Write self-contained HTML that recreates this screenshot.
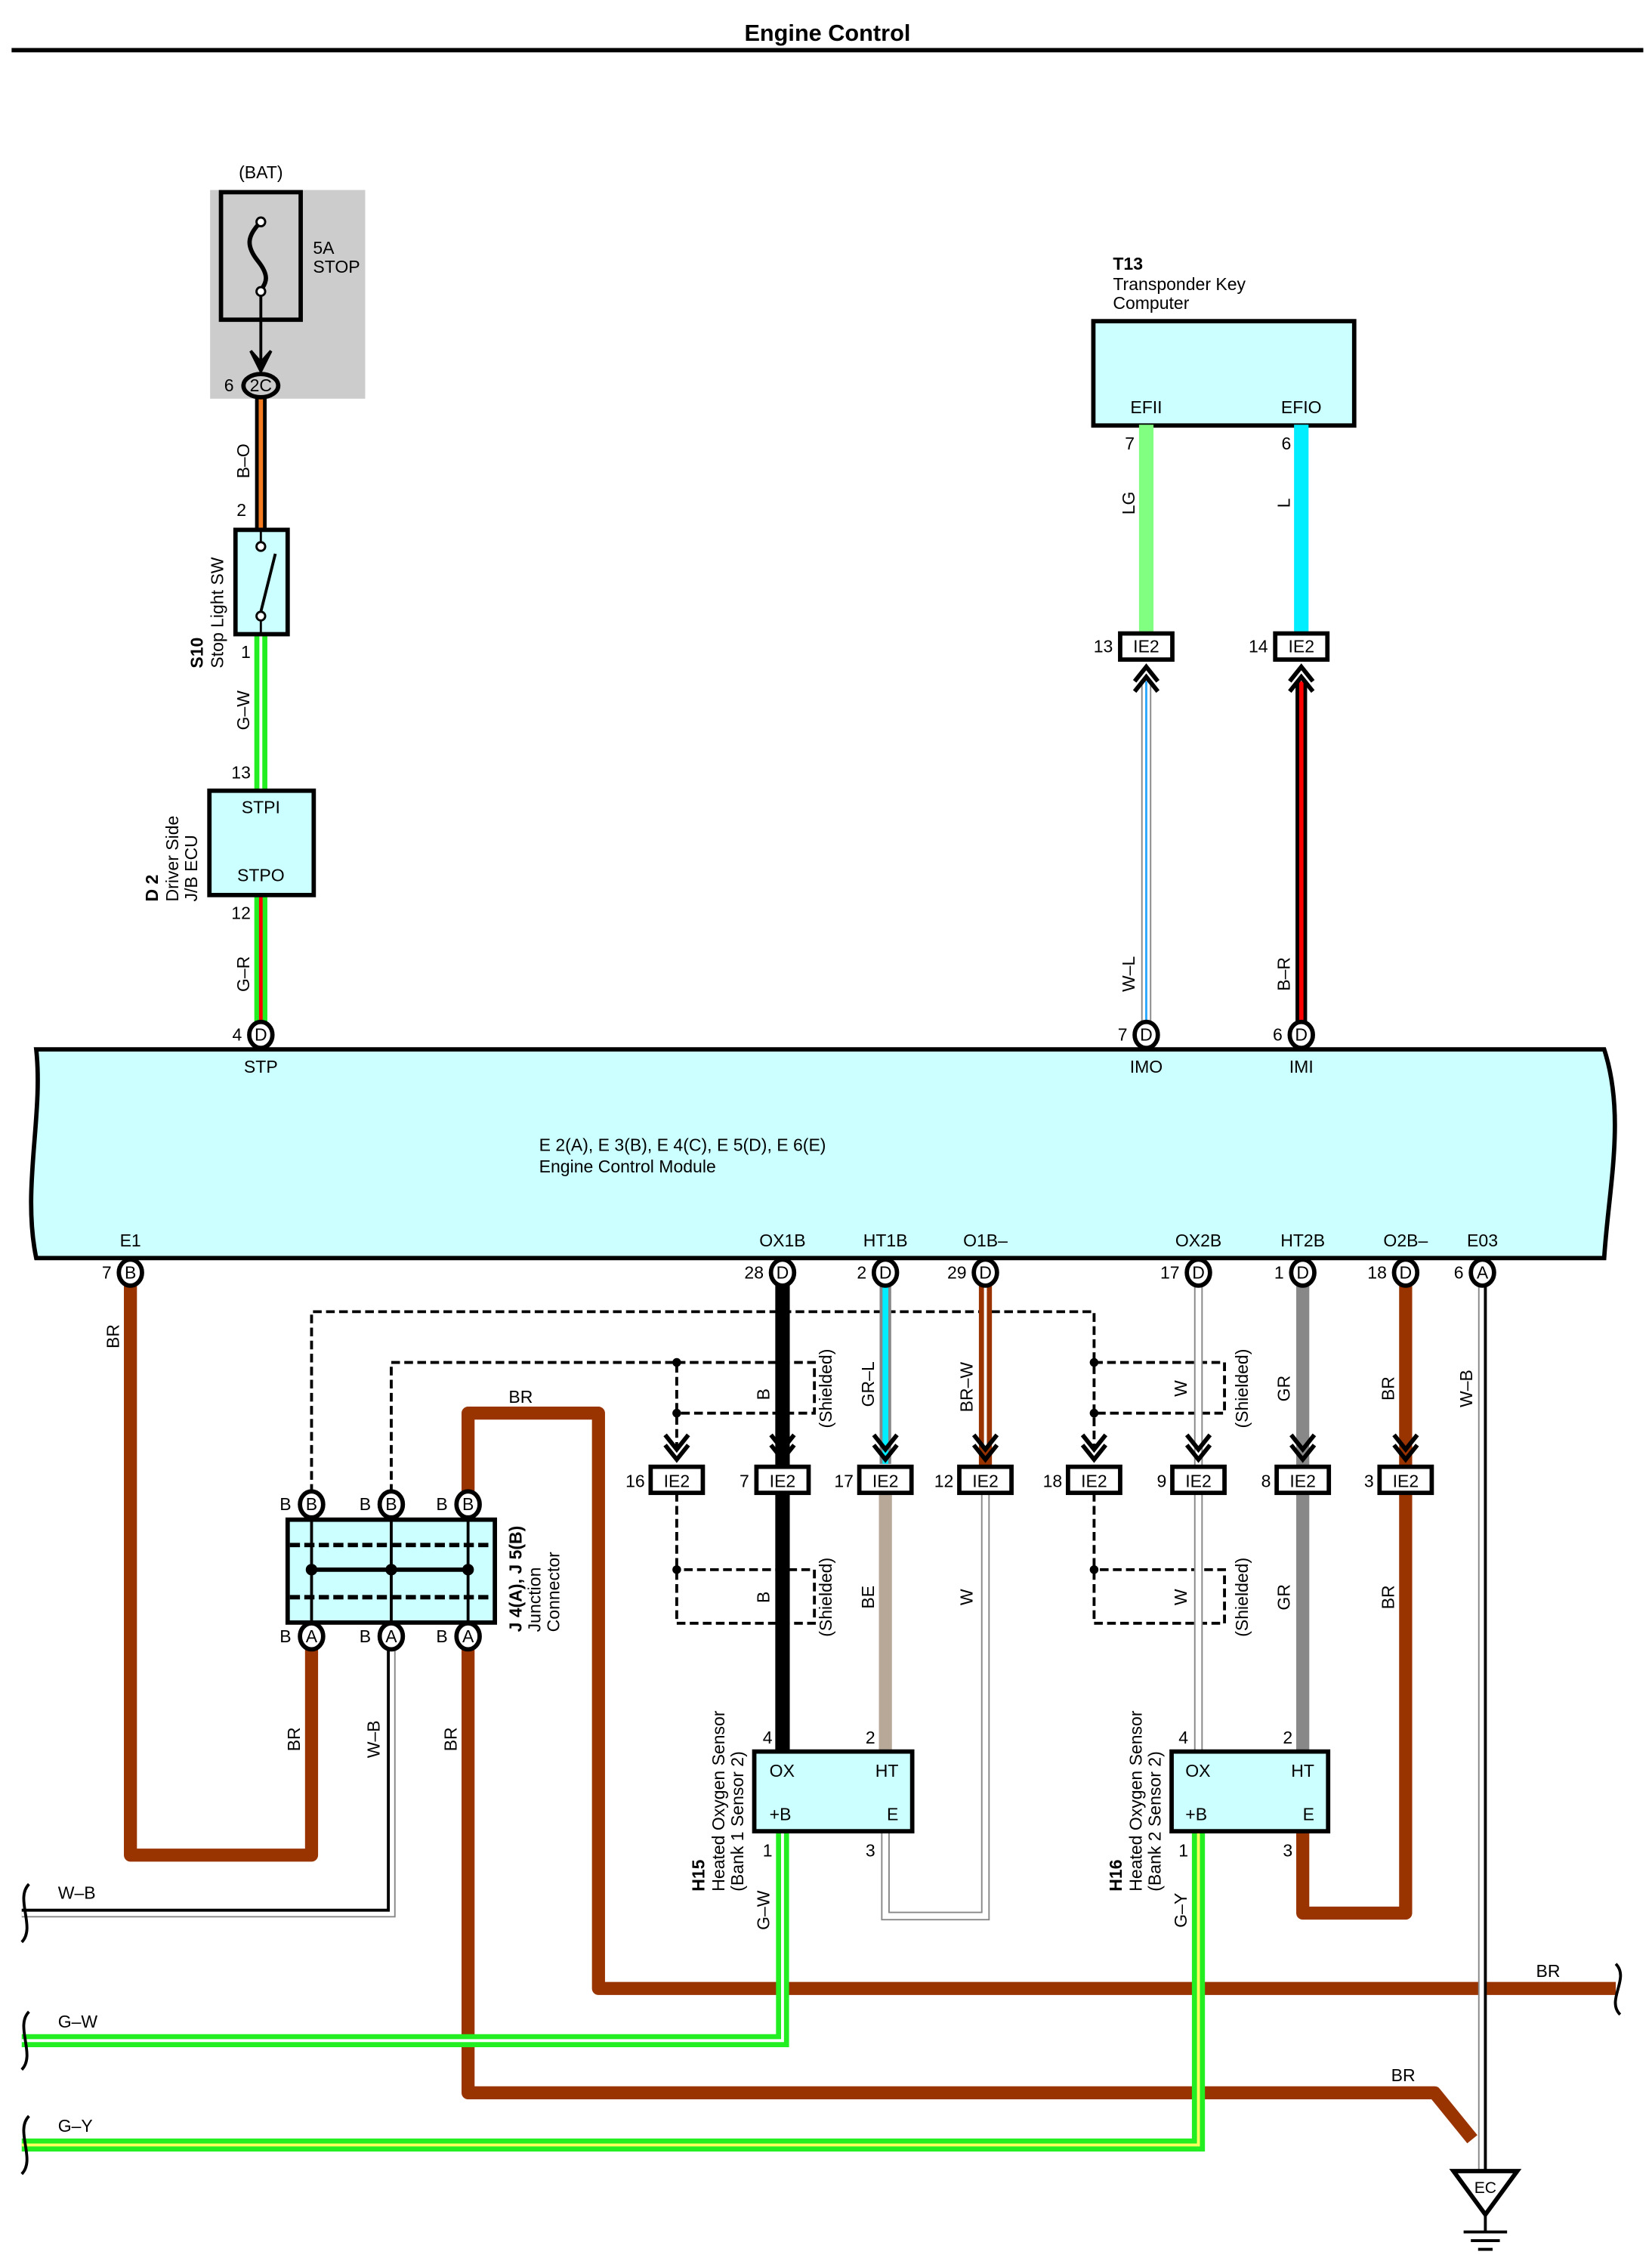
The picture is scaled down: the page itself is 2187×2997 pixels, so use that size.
<!DOCTYPE html>
<html><head><meta charset="utf-8"><style>html,body{margin:0;padding:0;background:#fff}svg{display:block}text{font-family:"Liberation Sans",sans-serif;font-size:12px}</style></head><body>
<svg width="2187" height="2997" viewBox="0 0 1140 1562" xmlns="http://www.w3.org/2000/svg">
<defs>
<g id="chv"><path d="M-8,-22 L0,-12 L8,-22 M-8,-15 L0,-5 L8,-15" fill="none" stroke="#000" stroke-width="3"/></g>
<g id="chu"><path d="M-8,22 L0,12 L8,22 M-8,15 L0,5 L8,15" fill="none" stroke="#000" stroke-width="3"/></g>
</defs>
<text x="571" y="28" text-anchor="middle" font-weight="bold" style="font-size:16px">Engine Control</text>
<rect x="8" y="33" width="1126" height="3" fill="#000"/>

<!-- fuse -->
<rect x="145" y="131" width="107" height="144" fill="#ccc"/>
<text x="180" y="123" text-anchor="middle">(BAT)</text>
<rect x="152.5" y="132.5" width="55" height="88" fill="none" stroke="#000" stroke-width="3"/>
<path d="M180,153 C170,163 170,170 178,180 C186,190 184,195 180,200" fill="none" stroke="#000" stroke-width="3"/>
<circle cx="180" cy="153" r="3" fill="#fff" stroke="#000" stroke-width="1.5"/>
<circle cx="180" cy="201" r="3" fill="#fff" stroke="#000" stroke-width="1.5"/>
<line x1="180" y1="204" x2="180" y2="252" stroke="#000" stroke-width="2"/>
<path d="M173,242 L180,256 L187,242 L180,250 Z" fill="#000" stroke="#000" stroke-width="2"/>
<text x="216" y="175">5A</text><text x="216" y="188">STOP</text>

<!-- wires top-left -->
<line x1="180" y1="270" x2="180" y2="365" stroke="#000" stroke-width="8"/>
<line x1="180" y1="270" x2="180" y2="365" stroke="#f47a20" stroke-width="3"/>
<line x1="180" y1="437" x2="180" y2="545" stroke="#22ee22" stroke-width="9"/>
<line x1="180" y1="437" x2="180" y2="545" stroke="#fff" stroke-width="2"/>
<line x1="180" y1="617" x2="180" y2="706" stroke="#22ee22" stroke-width="9"/>
<line x1="180" y1="617" x2="180" y2="706" stroke="#f00" stroke-width="2.5"/>
<ellipse cx="180" cy="266" rx="12" ry="8" fill="#ccc" stroke="#000" stroke-width="3"/>
<text x="180" y="270" text-anchor="middle">2C</text><text x="158" y="270" text-anchor="middle">6</text>
<text transform="translate(172,318) rotate(-90)" text-anchor="middle">B–O</text>
<text x="170" y="356" text-anchor="end">2</text>

<rect x="162.5" y="365.5" width="36" height="72" fill="#ccffff" stroke="#000" stroke-width="3"/>
<circle cx="180" cy="377" r="3" fill="#fff" stroke="#000" stroke-width="1.5"/>
<circle cx="180" cy="425" r="3" fill="#fff" stroke="#000" stroke-width="1.5"/>
<line x1="180" y1="422" x2="190" y2="382" stroke="#000" stroke-width="2"/>
<line x1="180" y1="365" x2="180" y2="374" stroke="#000" stroke-width="1.5"/>
<line x1="180" y1="428" x2="180" y2="437" stroke="#000" stroke-width="1.5"/>
<text transform="translate(140,461) rotate(-90)" font-weight="bold">S10</text>
<text transform="translate(154,461) rotate(-90)">Stop Light SW</text>
<text x="173" y="454" text-anchor="end">1</text>
<text transform="translate(172,490) rotate(-90)" text-anchor="middle">G–W</text>
<text x="173" y="537" text-anchor="end">13</text>

<rect x="144.5" y="545.5" width="72" height="72" fill="#ccffff" stroke="#000" stroke-width="3"/>
<text x="180" y="561" text-anchor="middle">STPI</text><text x="180" y="608" text-anchor="middle">STPO</text>
<text transform="translate(109,622) rotate(-90)" font-weight="bold">D 2</text>
<text transform="translate(123,622) rotate(-90)">Driver Side</text>
<text transform="translate(136,622) rotate(-90)">J/B ECU</text>
<text x="173" y="634" text-anchor="end">12</text>
<text transform="translate(172,672) rotate(-90)" text-anchor="middle">G–R</text>

<!-- T13 -->
<text x="768" y="186" font-weight="bold">T13</text>
<text x="768" y="200">Transponder Key</text><text x="768" y="213">Computer</text>
<rect x="754.5" y="221.5" width="180" height="72" fill="#ccffff" stroke="#000" stroke-width="3"/>
<text x="791" y="285" text-anchor="middle">EFII</text><text x="898" y="285" text-anchor="middle">EFIO</text>
<line x1="791" y1="293" x2="791" y2="437" stroke="#80ff80" stroke-width="10"/>
<line x1="898" y1="293" x2="898" y2="437" stroke="#00eeff" stroke-width="10"/>
<text x="783" y="310" text-anchor="end">7</text><text x="891" y="310" text-anchor="end">6</text>
<text transform="translate(783,347) rotate(-90)" text-anchor="middle">LG</text>
<text transform="translate(890,347) rotate(-90)" text-anchor="middle">L</text>
<rect x="773" y="437" width="36" height="18" fill="#fff" stroke="#000" stroke-width="3"/>
<rect x="880" y="437" width="36" height="18" fill="#fff" stroke="#000" stroke-width="3"/>
<text x="791" y="450" text-anchor="middle">IE2</text><text x="898" y="450" text-anchor="middle">IE2</text>
<text x="768" y="450" text-anchor="end">13</text><text x="875" y="450" text-anchor="end">14</text>
<line x1="791" y1="470" x2="791" y2="706" stroke="#888" stroke-width="7"/>
<line x1="791" y1="470" x2="791" y2="706" stroke="#fff" stroke-width="5"/>
<line x1="791" y1="470" x2="791" y2="706" stroke="#2aa8ff" stroke-width="1.5"/>
<line x1="898" y1="470" x2="898" y2="706" stroke="#000" stroke-width="8"/>
<line x1="898" y1="470" x2="898" y2="706" stroke="#f00" stroke-width="3"/>
<use href="#chu" x="791" y="455"/><use href="#chu" x="898" y="455"/>
<text transform="translate(783,672) rotate(-90)" text-anchor="middle">W–L</text>
<text transform="translate(890,672) rotate(-90)" text-anchor="middle">B–R</text>

<!-- ECM -->
<path d="M25,724 L1107,724 C1122,770 1110,820 1107,868 L25,868 C15,820 30,770 25,724 Z" fill="#ccffff" stroke="#000" stroke-width="3"/>
<text x="372" y="794">E 2(A), E 3(B), E 4(C), E 5(D), E 6(E)</text>
<text x="372" y="809">Engine Control Module</text>
<text x="180" y="740" text-anchor="middle">STP</text><text x="791" y="740" text-anchor="middle">IMO</text><text x="898" y="740" text-anchor="middle">IMI</text>
<g text-anchor="middle">
<text x="90" y="860">E1</text><text x="540" y="860">OX1B</text><text x="611" y="860">HT1B</text><text x="680" y="860">O1B–</text>
<text x="827" y="860">OX2B</text><text x="899" y="860">HT2B</text><text x="970" y="860">O2B–</text><text x="1023" y="860">E03</text>
</g>

<!-- dashed shields -->
<g fill="none" stroke="#000" stroke-width="2" stroke-dasharray="6,3">
<path d="M215,1030 L215,905 L755,905 L755,1000"/>
<path d="M270,1030 L270,940 L467,940 L467,1000"/>
<path d="M467,940 L562,940 L562,975 L467,975"/>
<path d="M755,940 L845,940 L845,975 L755,975"/>
<path d="M467,1030 L467,1120 L562,1120 L562,1083 L467,1083"/>
<path d="M755,1030 L755,1120 L845,1120 L845,1083 L755,1083"/>
</g>
<g fill="#000"><circle cx="467" cy="940" r="3"/><circle cx="467" cy="975" r="3"/><circle cx="755" cy="940" r="3"/><circle cx="755" cy="975" r="3"/><circle cx="467" cy="1083" r="3"/><circle cx="755" cy="1083" r="3"/></g>

<!-- BR wires -->
<g fill="none" stroke="#993300" stroke-width="9" stroke-linejoin="round">
<path d="M90,886 L90,1280 L215,1280 L215,1138"/>
<path d="M323,1030 L323,975 L413,975 L413,1372 L1115,1372"/>
<path d="M323,1138 L323,1444 L990,1444 L1016,1476"/>
<path d="M680,886 L680,1012"/>
<path d="M970,886 L970,1012"/>
<path d="M970,1030 L970,1320 L899,1320 L899,1264"/>
</g>
<line x1="680" y1="886" x2="680" y2="1000" stroke="#fff" stroke-width="2"/>
<!-- other wires -->
<line x1="540" y1="886" x2="540" y2="1208" stroke="#000" stroke-width="10"/>
<line x1="611" y1="886" x2="611" y2="1010" stroke="#888" stroke-width="8"/>
<line x1="611" y1="886" x2="611" y2="1010" stroke="#00eeff" stroke-width="4"/>
<line x1="611" y1="1030" x2="611" y2="1208" stroke="#b8a898" stroke-width="9"/>
<line x1="899" y1="886" x2="899" y2="1208" stroke="#888" stroke-width="9"/>
<g fill="none" stroke="#888" stroke-width="6"><path d="M680,1030 L680,1322 L611,1322 L611,1264"/><path d="M827,886 L827,1208"/><path d="M270,1138 L270,1320 L15,1320"/><path d="M1023,886 L1023,1500"/></g>
<g fill="none" stroke="#fff" stroke-width="4"><path d="M680,1030 L680,1322 L611,1322 L611,1264"/><path d="M827,886 L827,1208"/><path d="M270,1138 L270,1320 L15,1320"/><path d="M1023,886 L1023,1500"/></g>
<g fill="none" stroke="#000" stroke-width="2"><path d="M268,1138 L268,1318 L15,1318"/><path d="M1025,886 L1025,1500"/></g>
<g fill="none" stroke="#22ee22" stroke-width="9"><path d="M540,1264 L540,1408 L15,1408"/><path d="M827,1264 L827,1480 L15,1480"/></g>
<g fill="none" stroke="#ffff60" stroke-width="2"><path d="M827,1264 L827,1480 L15,1480"/></g>
<g fill="none" stroke="#fff" stroke-width="2"><path d="M540,1264 L540,1408 L15,1408"/></g>
<g fill="none" stroke="#000" stroke-width="2"><path d="M20,1300 C10,1310 25,1330 15,1340"/><path d="M20,1388 C10,1398 25,1418 15,1428"/><path d="M20,1460 C10,1470 25,1490 15,1500"/><path d="M1115,1355 C1125,1365 1108,1380 1118,1390"/></g>

<!-- ground -->
<path d="M1003,1498 L1047,1498 L1025,1528 Z" fill="#fff" stroke="#000" stroke-width="3"/>
<text x="1025" y="1513" text-anchor="middle" style="font-size:11px">EC</text>
<g stroke="#000" stroke-width="2"><line x1="1025" y1="1528" x2="1025" y2="1540"/><line x1="1010" y1="1540" x2="1040" y2="1540"/><line x1="1015" y1="1546" x2="1035" y2="1546"/><line x1="1020" y1="1552" x2="1030" y2="1552"/></g>

<!-- IE2 row -->
<g>
<rect x="449" y="1012" width="36" height="18" fill="#fff" stroke="#000" stroke-width="3"/>
<rect x="522" y="1012" width="36" height="18" fill="#fff" stroke="#000" stroke-width="3"/>
<rect x="593" y="1012" width="36" height="18" fill="#fff" stroke="#000" stroke-width="3"/>
<rect x="662" y="1012" width="36" height="18" fill="#fff" stroke="#000" stroke-width="3"/>
<rect x="737" y="1012" width="36" height="18" fill="#fff" stroke="#000" stroke-width="3"/>
<rect x="809" y="1012" width="36" height="18" fill="#fff" stroke="#000" stroke-width="3"/>
<rect x="881" y="1012" width="36" height="18" fill="#fff" stroke="#000" stroke-width="3"/>
<rect x="952" y="1012" width="36" height="18" fill="#fff" stroke="#000" stroke-width="3"/>
</g>
<g text-anchor="middle"><text x="467" y="1026">IE2</text><text x="540" y="1026">IE2</text><text x="611" y="1026">IE2</text><text x="680" y="1026">IE2</text><text x="755" y="1026">IE2</text><text x="827" y="1026">IE2</text><text x="899" y="1026">IE2</text><text x="970" y="1026">IE2</text></g>
<g text-anchor="end"><text x="445" y="1026">16</text><text x="517" y="1026">7</text><text x="589" y="1026">17</text><text x="658" y="1026">12</text><text x="733" y="1026">18</text><text x="805" y="1026">9</text><text x="877" y="1026">8</text><text x="948" y="1026">3</text></g>
<use href="#chv" x="467" y="1012"/><use href="#chv" x="540" y="1012"/><use href="#chv" x="611" y="1012"/><use href="#chv" x="680" y="1012"/><use href="#chv" x="755" y="1012"/><use href="#chv" x="827" y="1012"/><use href="#chv" x="899" y="1012"/><use href="#chv" x="970" y="1012"/>

<!-- connectors -->
<g fill="#fff" stroke="#000" stroke-width="3">
<ellipse cx="180" cy="714" rx="8" ry="9"/><ellipse cx="791" cy="714" rx="8" ry="9"/><ellipse cx="898" cy="714" rx="8" ry="9"/>
<ellipse cx="90" cy="878" rx="8" ry="9"/><ellipse cx="540" cy="878" rx="8" ry="9"/><ellipse cx="611" cy="878" rx="8" ry="9"/><ellipse cx="680" cy="878" rx="8" ry="9"/>
<ellipse cx="827" cy="878" rx="8" ry="9"/><ellipse cx="899" cy="878" rx="8" ry="9"/><ellipse cx="970" cy="878" rx="8" ry="9"/><ellipse cx="1023" cy="878" rx="8" ry="9"/>
</g>
<g text-anchor="middle"><text x="180" y="718">D</text><text x="791" y="718">D</text><text x="898" y="718">D</text>
<text x="90" y="882">B</text><text x="540" y="882">D</text><text x="611" y="882">D</text><text x="680" y="882">D</text><text x="827" y="882">D</text><text x="899" y="882">D</text><text x="970" y="882">D</text><text x="1023" y="882">A</text></g>
<g text-anchor="end"><text x="167" y="718">4</text><text x="778" y="718">7</text><text x="885" y="718">6</text>
<text x="77" y="882">7</text><text x="527" y="882">28</text><text x="598" y="882">2</text><text x="667" y="882">29</text><text x="814" y="882">17</text><text x="886" y="882">1</text><text x="957" y="882">18</text><text x="1010" y="882">6</text></g>

<!-- junction connector -->
<rect x="198.5" y="1048.5" width="143" height="71" fill="#ccffff" stroke="#000" stroke-width="3"/>
<g stroke="#000" stroke-width="3" stroke-dasharray="7,3"><line x1="200" y1="1066" x2="340" y2="1066"/><line x1="200" y1="1102" x2="340" y2="1102"/></g>
<g stroke="#000" stroke-width="2"><line x1="215" y1="1048" x2="215" y2="1120"/><line x1="270" y1="1048" x2="270" y2="1120"/><line x1="323" y1="1048" x2="323" y2="1120"/><line x1="215" y1="1083" x2="323" y2="1083" stroke-width="3"/></g>
<g fill="#000"><circle cx="215" cy="1083" r="4"/><circle cx="270" cy="1083" r="4"/><circle cx="323" cy="1083" r="4"/></g>
<g fill="#fff" stroke="#000" stroke-width="3"><ellipse cx="215" cy="1038" rx="8" ry="9"/><ellipse cx="270" cy="1038" rx="8" ry="9"/><ellipse cx="323" cy="1038" rx="8" ry="9"/><ellipse cx="215" cy="1129" rx="8" ry="9"/><ellipse cx="270" cy="1129" rx="8" ry="9"/><ellipse cx="323" cy="1129" rx="8" ry="9"/></g>
<g text-anchor="middle"><text x="215" y="1042">B</text><text x="270" y="1042">B</text><text x="323" y="1042">B</text><text x="215" y="1133">A</text><text x="270" y="1133">A</text><text x="323" y="1133">A</text>
<text x="197" y="1042">B</text><text x="252" y="1042">B</text><text x="305" y="1042">B</text><text x="197" y="1133">B</text><text x="252" y="1133">B</text><text x="305" y="1133">B</text></g>
<text transform="translate(360,1126) rotate(-90)" font-weight="bold">J 4(A), J 5(B)</text>
<text transform="translate(373,1126) rotate(-90)">Junction</text>
<text transform="translate(386,1126) rotate(-90)">Connector</text>

<!-- sensors -->
<rect x="520.5" y="1208.5" width="109" height="55" fill="#ccffff" stroke="#000" stroke-width="3"/>
<rect x="808.5" y="1208.5" width="108" height="55" fill="#ccffff" stroke="#000" stroke-width="3"/>
<text x="531" y="1226">OX</text><text x="620" y="1226" text-anchor="end">HT</text><text x="531" y="1256">+B</text><text x="620" y="1256" text-anchor="end">E</text>
<text x="818" y="1226">OX</text><text x="907" y="1226" text-anchor="end">HT</text><text x="818" y="1256">+B</text><text x="907" y="1256" text-anchor="end">E</text>
<text x="533" y="1203" text-anchor="end">4</text><text x="604" y="1203" text-anchor="end">2</text><text x="533" y="1281" text-anchor="end">1</text><text x="604" y="1281" text-anchor="end">3</text>
<text x="820" y="1203" text-anchor="end">4</text><text x="892" y="1203" text-anchor="end">2</text><text x="820" y="1281" text-anchor="end">1</text><text x="892" y="1281" text-anchor="end">3</text>
<text transform="translate(486,1305) rotate(-90)" font-weight="bold">H15</text>
<text transform="translate(500,1305) rotate(-90)" x="0">Heated Oxygen Sensor</text>
<text transform="translate(513,1305) rotate(-90)">(Bank 1 Sensor 2)</text>
<text transform="translate(774,1305) rotate(-90)" font-weight="bold">H16</text>
<text transform="translate(788,1305) rotate(-90)">Heated Oxygen Sensor</text>
<text transform="translate(801,1305) rotate(-90)">(Bank 2 Sensor 2)</text>

<!-- vertical wire labels -->
<g text-anchor="middle">
<text transform="translate(82,922) rotate(-90)">BR</text>
<text transform="translate(531,962) rotate(-90)">B</text>
<text transform="translate(603,955) rotate(-90)">GR–L</text>
<text transform="translate(671,957) rotate(-90)">BR–W</text>
<text transform="translate(819,958) rotate(-90)">W</text>
<text transform="translate(890,958) rotate(-90)">GR</text>
<text transform="translate(962,958) rotate(-90)">BR</text>
<text transform="translate(1016,958) rotate(-90)">W–B</text>
<text transform="translate(574,958) rotate(-90)">(Shielded)</text>
<text transform="translate(861,958) rotate(-90)">(Shielded)</text>
<text transform="translate(531,1102) rotate(-90)">B</text>
<text transform="translate(603,1102) rotate(-90)">BE</text>
<text transform="translate(671,1102) rotate(-90)">W</text>
<text transform="translate(819,1102) rotate(-90)">W</text>
<text transform="translate(890,1102) rotate(-90)">GR</text>
<text transform="translate(962,1102) rotate(-90)">BR</text>
<text transform="translate(574,1102) rotate(-90)">(Shielded)</text>
<text transform="translate(861,1102) rotate(-90)">(Shielded)</text>
<text transform="translate(207,1200) rotate(-90)">BR</text>
<text transform="translate(262,1200) rotate(-90)">W–B</text>
<text transform="translate(315,1200) rotate(-90)">BR</text>
<text transform="translate(531,1318) rotate(-90)">G–W</text>
<text transform="translate(819,1318) rotate(-90)">G–Y</text>
</g>
<text x="351" y="968">BR</text>
<text x="40" y="1310">W–B</text><text x="40" y="1399">G–W</text><text x="40" y="1471">G–Y</text>
<text x="1060" y="1364">BR</text><text x="960" y="1436">BR</text>
</svg>
</body></html>
